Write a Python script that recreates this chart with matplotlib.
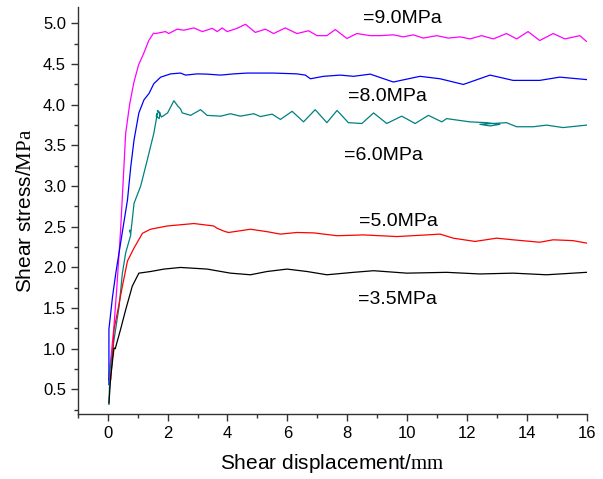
import matplotlib
matplotlib.use("Agg")
import matplotlib.pyplot as plt
from matplotlib.ticker import MultipleLocator

plt.rcParams['font.family'] = ['Liberation Sans', 'DejaVu Sans']
plt.rcParams['mathtext.fontset'] = 'custom'
plt.rcParams['mathtext.rm'] = 'Liberation Serif'

# shear displacement (mm) / shear stress (MPa) for each normal stress
x_90 = [0.03, 0.1, 0.2, 0.3, 0.43, 0.6, 0.73, 0.87, 1.03, 1.2, 1.37, 1.53, 1.6, 1.93, 2.04,
        2.32, 2.54, 2.88, 3.16, 3.49, 3.66, 3.82, 3.99, 4.32, 4.6, 4.93, 5.27, 5.54, 5.93,
        6.32, 6.71, 6.99, 7.32, 7.6, 7.99, 8.32, 8.77, 9.1, 9.54, 9.88, 10.21, 10.54, 10.99,
        11.38, 11.77, 12.1, 12.49, 12.88, 13.32, 13.66, 14.04, 14.43, 14.88, 15.27, 15.77, 15.99]
y_90 = [0.62, 0.87, 1.24, 1.73, 2.46, 3.65, 4.0, 4.27, 4.49, 4.63, 4.79, 4.88, 4.876, 4.90, 4.876,
        4.93, 4.917, 4.945, 4.90, 4.94, 4.90, 4.945, 4.90, 4.94, 4.99, 4.89, 4.93, 4.876, 4.945,
        4.876, 4.91, 4.85, 4.85, 4.925, 4.815, 4.876, 4.85, 4.85, 4.86, 4.835, 4.86, 4.82, 4.85,
        4.82, 4.835, 4.81, 4.85, 4.81, 4.876, 4.81, 4.90, 4.79, 4.876, 4.81, 4.85, 4.78]

x_80 = [0.04, 0.04, 0.16, 0.27, 0.49, 0.66, 0.77, 0.88, 1.04, 1.21, 1.38, 1.54, 1.77, 2.1,
        2.43, 2.6, 2.99, 3.32, 3.77, 4.21, 4.66, 5.54, 6.32, 6.6, 6.77, 7.21, 7.77, 8.21, 8.77,
        9.54, 10.43, 11.1, 11.88, 12.77, 13.54, 14.43, 15.1, 15.99]
y_80 = [0.56, 1.24, 1.64, 1.93, 2.44, 2.83, 3.24, 3.57, 3.9, 4.06, 4.14, 4.26, 4.34, 4.38,
        4.39, 4.365, 4.38, 4.377, 4.365, 4.38, 4.39, 4.39, 4.38, 4.365, 4.32, 4.35, 4.365, 4.35, 4.377,
        4.28, 4.35, 4.32, 4.25, 4.365, 4.30, 4.30, 4.34, 4.31]

x_60 = [0.04, 0.08, 0.21, 0.38, 0.49, 0.6, 0.77, 0.74, 0.77, 0.88, 1.1, 1.32, 1.54, 1.66,
        1.62, 1.72, 1.75, 1.66, 1.8, 2.0, 2.21, 2.35, 2.43, 2.49, 2.77, 3.1, 3.32, 3.77, 4.1,
        4.43, 4.88, 5.1, 5.49, 5.77, 6.16, 6.54, 6.93, 7.32, 7.66, 8.04, 8.49, 8.88, 9.32,
        9.82, 10.27, 10.71, 11.16, 11.32, 12.1, 12.66, 13.1, 12.77, 12.43, 13.32, 13.66,
        14.21, 14.66, 15.21, 15.99]
y_60 = [0.34, 0.75, 1.11, 1.52, 1.93, 2.18, 2.4, 2.46, 2.42, 2.79, 3.0, 3.32, 3.65, 3.9,
        3.86, 3.83, 3.9, 3.93, 3.85, 3.9, 4.05, 3.98, 3.95, 3.9, 3.87, 3.94, 3.87, 3.86, 3.89,
        3.86, 3.89, 3.855, 3.885, 3.82, 3.92, 3.79, 3.94, 3.78, 3.93, 3.78, 3.77, 3.9, 3.77,
        3.86, 3.77, 3.87, 3.79, 3.83, 3.79, 3.78, 3.76, 3.74, 3.76, 3.78, 3.73,
        3.73, 3.75, 3.72, 3.75]

x_50 = [0.1, 0.16, 0.21, 0.32, 0.49, 0.66, 0.88, 1.16, 1.43, 1.99, 2.88, 3.54, 3.66, 3.93,
        4.04, 4.77, 5.32, 5.77, 6.32, 6.88, 7.66, 8.54, 9.66, 10.66, 11.1, 11.54, 12.27, 12.99,
        13.54, 14.43, 14.88, 15.54, 15.99]
y_50 = [0.62, 0.91, 1.24, 1.44, 1.77, 2.08, 2.24, 2.42, 2.47, 2.51, 2.54, 2.51, 2.48, 2.44,
        2.43, 2.47, 2.44, 2.41, 2.43, 2.425, 2.39, 2.40, 2.38, 2.40, 2.41, 2.36, 2.32, 2.36,
        2.34, 2.31, 2.34, 2.33, 2.30]

x_35 = [0.04, 0.1, 0.21, 0.25, 0.43, 0.6, 0.82, 1.04, 1.43, 1.88, 2.43, 2.88, 3.32, 4.1,
        4.77, 5.32, 5.99, 6.66, 7.32, 8.21, 8.88, 9.99, 11.32, 12.43, 13.54, 14.66, 15.99]
y_35 = [0.32, 0.66, 1.01, 1.0, 1.24, 1.48, 1.77, 1.93, 1.95, 1.98, 2.0, 1.99, 1.98, 1.93,
        1.91, 1.95, 1.98, 1.95, 1.91, 1.94, 1.96, 1.93, 1.94, 1.92, 1.93, 1.91, 1.94]

labels = ["=9.0MPa", "=8.0MPa", "=6.0MPa", "=5.0MPa", "=3.5MPa"]
label_x = [8.53, 8.03, 7.9, 8.4, 8.37]
label_y = [5.06, 4.10, 3.38, 2.56, 1.60]

fig = plt.figure(figsize=(6.03, 4.79), dpi=100)
ax = fig.add_axes([0.129, 0.136, 0.844, 0.849])

ax.plot(x_90, y_90, color="#ff00ff", lw=0.9)
ax.plot(x_80, y_80, color="#0000ff", lw=0.9)
ax.plot(x_60, y_60, color="#008080", lw=0.9)
ax.plot(x_50, y_50, color="#ff0000", lw=0.9)
ax.plot(x_35, y_35, color="#000000", lw=0.9)

for t, lx, ly in zip(labels, label_x, label_y):
    ax.text(lx, ly, t, fontsize=14, va="center", ha="left")

ax.set_xlim(-1, 16)
ax.set_ylim(0.2, 5.2)
ax.xaxis.set_major_locator(MultipleLocator(2))
ax.xaxis.set_minor_locator(MultipleLocator(1))
ax.yaxis.set_major_locator(MultipleLocator(0.5))
ax.yaxis.set_minor_locator(MultipleLocator(0.25))
ax.set_xticks([0, 2, 4, 6, 8, 10, 12, 14, 16])

for s in ["top", "right"]:
    ax.spines[s].set_visible(False)
for s in ["left", "bottom"]:
    ax.spines[s].set_color("#333333")
    ax.spines[s].set_linewidth(1.0)

ax.tick_params(which="major", direction="out", length=5, width=1.0, labelsize=12, color="#333333")
ax.tick_params(which="minor", direction="out", length=3, width=1.0, color="#333333")

ax.set_xlabel(r"Shear displacement/$\mathrm{mm}$", fontsize=15, labelpad=8)
ax.set_ylabel(r"Shear stress/$\mathrm{MPa}$", fontsize=15, labelpad=6)

fig.savefig("out.png", dpi=100)
